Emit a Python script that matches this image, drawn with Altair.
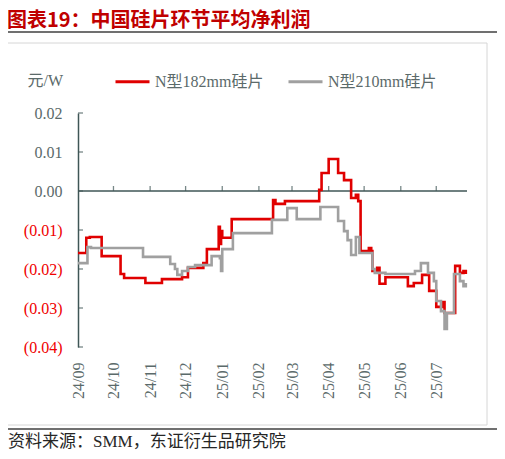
import altair as alt
import pandas as pd

# ---------------- data ----------------
series_names = ["N型182mm硅片", "N型210mm硅片"]
series_colors = ["#e00000", "#a0a0a0"]

dates_182 = ["2024-09-01", "2024-09-08", "2024-09-11", "2024-09-21", "2024-10-07", "2024-10-10",
             "2024-10-28", "2024-11-11", "2024-11-28", "2024-12-03", "2024-12-16", "2024-12-19",
             "2024-12-29", "2024-12-30", "2024-12-31", "2025-01-01", "2025-01-09", "2025-02-13",
             "2025-02-15", "2025-02-23", "2025-03-24", "2025-03-26", "2025-04-01", "2025-04-09",
             "2025-04-14", "2025-04-20", "2025-04-24", "2025-04-26", "2025-04-28", "2025-05-05",
             "2025-05-07", "2025-05-08", "2025-05-12", "2025-05-14", "2025-05-19", "2025-06-07",
             "2025-06-12", "2025-06-19", "2025-06-25", "2025-07-01", "2025-07-06", "2025-07-08",
             "2025-07-17", "2025-07-21", "2025-07-24", "2025-07-26"]
values_182 = [-0.0159, -0.0120, -0.0118, -0.0167, -0.0213, -0.0223,
              -0.0236, -0.0226, -0.0221, -0.0197, -0.0185, -0.0149,
              -0.0092, -0.0136, -0.0103, -0.0120, -0.0072, -0.0023,
              -0.0033, -0.0026, 0.0003, 0.0046, 0.0082, 0.0046,
              0.0028, -0.0018, -0.0010, -0.0026, -0.0154, -0.0146,
              -0.0154, -0.0205, -0.0197, -0.0238, -0.0221, -0.0244,
              -0.0236, -0.0215, -0.0256, -0.0297, -0.0285, -0.0313,
              -0.0192, -0.0210, -0.0205, -0.0213]

dates_210 = ["2024-09-01", "2024-09-09", "2024-09-12", "2024-10-26", "2024-11-18", "2024-11-22",
             "2024-11-24", "2024-11-28", "2024-12-03", "2024-12-09", "2024-12-23", "2024-12-30",
             "2024-12-31", "2025-01-01", "2025-01-10", "2025-02-12", "2025-02-25", "2025-03-05",
             "2025-03-25", "2025-04-09", "2025-04-14", "2025-04-17", "2025-04-20", "2025-04-24",
             "2025-04-27", "2025-05-08", "2025-05-10", "2025-05-19", "2025-06-13", "2025-06-18",
             "2025-06-24", "2025-06-29", "2025-07-01", "2025-07-05", "2025-07-08", "2025-07-10",
             "2025-07-16", "2025-07-21", "2025-07-24", "2025-07-26"]
values_210 = [-0.0185, -0.0144, -0.0146, -0.0169, -0.0187, -0.0200,
              -0.0215, -0.0205, -0.0195, -0.0190, -0.0167, -0.0172,
              -0.0205, -0.0149, -0.0108, -0.0074, -0.0044, -0.0072,
              -0.0041, -0.0077, -0.0103, -0.0126, -0.0164, -0.0118,
              -0.0159, -0.0200, -0.0210, -0.0213, -0.0205, -0.0185,
              -0.0210, -0.0231, -0.0282, -0.0308, -0.0354, -0.0313,
              -0.0213, -0.0231, -0.0244, -0.0236]

y_ticks = [-0.04, -0.03, -0.02, -0.01, 0.0, 0.01, 0.02]
month_ticks = [(2024, 9), (2024, 10), (2024, 11), (2024, 12), (2025, 1), (2025, 2),
               (2025, 3), (2025, 4), (2025, 5), (2025, 6), (2025, 7)]

title_text = "图表19：中国硅片环节平均净利润"
source_text = "资料来源：SMM，东证衍生品研究院"
unit_text = "元/W"

# ---------------- styling ----------------
AXIS_COLOR = "#3f5656"
LABEL_GRAY = "#5b6a6a"
SERIF = "Liberation Serif, Noto Sans CJK SC"
CJK = "Noto Sans CJK SC"

df = pd.concat([
    pd.DataFrame({"date": dates_182, "value": values_182, "series": series_names[0]}),
    pd.DataFrame({"date": dates_210, "value": values_210, "series": series_names[1]}),
], ignore_index=True)

month_dt = [alt.DateTime(year=y, month=m, date=1, utc=True) for y, m in month_ticks]
tick_df = pd.DataFrame({"date": [f"{y}-{m:02d}-01" for y, m in month_ticks[1:]], "v": 0.0})
ytick_df = pd.DataFrame({"v": y_ticks})

x_scale = alt.Scale(type="utc",
                    domain=[alt.DateTime(year=2024, month=9, date=1, utc=True),
                            alt.DateTime(year=2025, month=7, date=27, utc=True)])
y_scale = alt.Scale(domain=[-0.04, 0.02], nice=False, zero=False)

x_axis = alt.Axis(values=month_dt, labelExpr="utcFormat(datum.value, '%y/%m')",
                  labelAngle=270, domain=False, ticks=False, tickSize=0,
                  labelOverlap=False, labelBound=False, labelFlush=False,
                  labelPadding=15, grid=False, labelFont=SERIF, labelFontSize=16,
                  labelColor=LABEL_GRAY)
y_axis = alt.Axis(values=y_ticks, grid=False, ticks=False, tickSize=0,
                  domainColor=AXIS_COLOR, domainWidth=1.5,
                  labelOverlap=False, labelBound=False, labelFlush=False,
                  labelExpr="datum.value < 0 ? '(' + format(-datum.value, '.2f') + ')' : format(datum.value, '.2f') + ' '",
                  labelColor={"condition": {"test": "datum.value < 0", "value": "#f00000"},
                              "value": LABEL_GRAY},
                  labelFont=SERIF, labelFontSize=16, labelPadding=16,
                  titleAngle=0, titleX=-51, titleY=-33, titleAlign="left",
                  titleBaseline="middle", titleFont=SERIF, titleFontSize=16,
                  titleFontWeight="normal", titleColor=LABEL_GRAY)

lines = alt.Chart(df).mark_line(interpolate="step-after", strokeWidth=2.6).encode(
    x=alt.X("date:T", scale=x_scale, title=None, axis=x_axis),
    y=alt.Y("value:Q", scale=y_scale, title=unit_text, axis=y_axis),
    color=alt.Color("series:N", scale=alt.Scale(domain=series_names, range=series_colors),
                    legend=alt.Legend(orient="none", legendX=36, legendY=-50, direction="horizontal",
                                      title=None, symbolType="stroke", symbolSize=1156,
                                      symbolStrokeWidth=3, labelFont=SERIF, labelFontSize=16,
                                      labelColor=LABEL_GRAY, columnPadding=18, labelOffset=4,
                                      padding=0)),
)

zero_line = alt.Chart(pd.DataFrame({"v": [0.0]})).mark_rule(color=AXIS_COLOR, strokeWidth=1.5).encode(
    y=alt.Y("v:Q", scale=y_scale, title=unit_text, axis=y_axis))

x_ticks = alt.Chart(tick_df).mark_tick(orient="vertical", size=5, thickness=1.3, yOffset=-2.5,
                                       color=AXIS_COLOR).encode(
    x=alt.X("date:T", scale=x_scale, title=None, axis=x_axis),
    y=alt.Y("v:Q", scale=y_scale, title=unit_text, axis=y_axis))

y_tick_marks = alt.Chart(ytick_df).mark_tick(orient="horizontal", size=5, thickness=1.3,
                                             color=AXIS_COLOR).encode(
    y=alt.Y("v:Q", scale=y_scale, title=unit_text, axis=y_axis), x=alt.value(2.5))

one = pd.DataFrame({"a": [0]})
frame = alt.Chart(one).mark_rect(filled=False, stroke="#d6d6d6", strokeWidth=1).encode(
    x=alt.value(-71), x2=alt.value(409), y=alt.value(-70), y2=alt.value(312))
top_rule = alt.Chart(one).mark_rule(color="#404040", strokeWidth=1.5).encode(
    x=alt.value(-73), x2=alt.value(422), y=alt.value(-81))
bottom_rule = alt.Chart(one).mark_rule(color="#404040", strokeWidth=1.5).encode(
    x=alt.value(-73), x2=alt.value(422), y=alt.value(316))
title = alt.Chart(pd.DataFrame({"t": [title_text]})).mark_text(
    align="left", baseline="middle", font=CJK, fontSize=20, fontWeight="bold", color="#c00000").encode(
    text="t:N", x=alt.value(-71), y=alt.value(-92))
source = alt.Chart(pd.DataFrame({"t": [source_text]})).mark_text(
    align="left", baseline="middle", font=SERIF, fontSize=17, color="#262626").encode(
    text="t:N", x=alt.value(-70), y=alt.value(329))

chart = alt.layer(frame, top_rule, bottom_rule, title, source, zero_line, x_ticks, y_tick_marks, lines).properties(
    width=389, height=234,
    padding={"left": 70, "top": 105, "right": 30, "bottom": 104},
    autosize=alt.AutoSizeParams(type="none"),
    background="white",
).configure_view(stroke=None).configure_axis(labelOverlap=False)

chart.save("out.html", embed_options={"renderer": "svg", "actions": False})
